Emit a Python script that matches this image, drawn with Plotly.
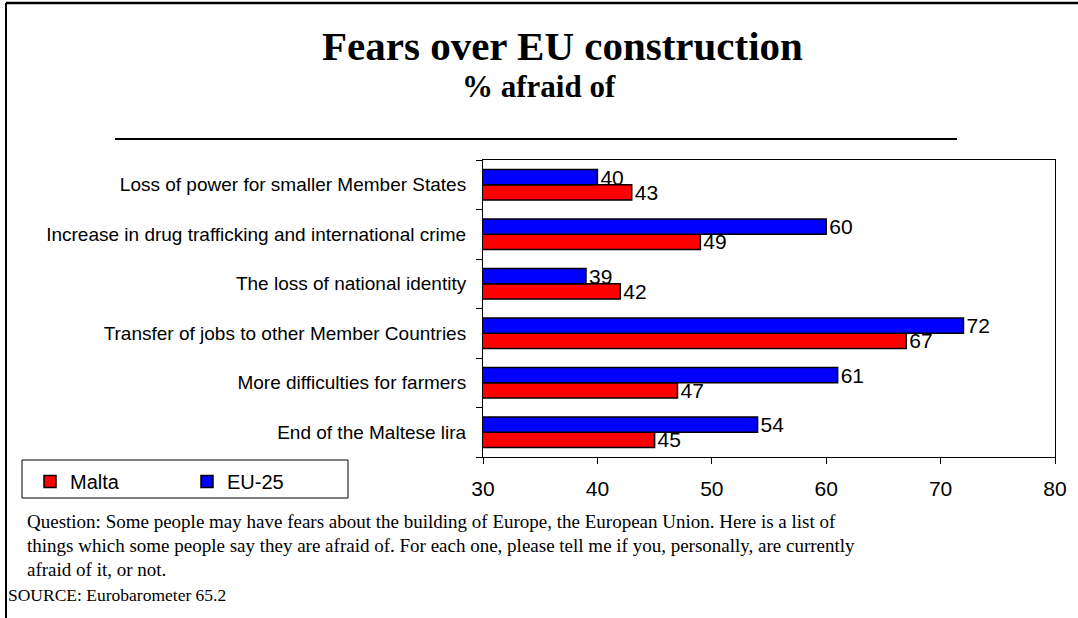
import plotly.graph_objects as go

# Categories listed bottom-to-top as they appear on the y axis
categories = [
    "End of the Maltese lira",
    "More difficulties for farmers",
    "Transfer of jobs to other Member Countries",
    "The loss of national identity",
    "Increase in drug trafficking and international crime",
    "Loss of power for smaller Member States",
]
malta = [45, 47, 67, 42, 49, 43]
eu25 = [54, 61, 72, 39, 60, 40]

x_ticks = [30, 40, 50, 60, 70, 80]

title_text = "Fears over EU construction"
subtitle_text = "% afraid of"
question_lines = [
    "Question: Some people may have fears about the building of Europe, the European Union. Here is a list of",
    "things which some people say they are afraid of. For each one, please tell me if you, personally, are currently",
    "afraid of it, or not.",
]
source_text = "SOURCE: Eurobarometer 65.2"

W, H = 1078, 618
L, R, T, B = 483, 23, 160, 161
PW, PH = W - L - R, H - T - B


def px(x):
    return (x - L) / PW


def py(y):
    return 1 - (y - T) / PH


sans = "Liberation Sans, Arial, sans-serif"
serif = "Liberation Serif, Times New Roman, serif"

fig = go.Figure()
fig.add_trace(go.Bar(
    y=categories, x=malta, name="Malta", orientation="h",
    marker=dict(color="#FF0000", line=dict(color="black", width=1.5)),
    text=malta, textposition="outside", cliponaxis=False, constraintext="none",
    textfont=dict(family=sans, size=21, color="black"),
))
fig.add_trace(go.Bar(
    y=categories, x=eu25, name="EU-25", orientation="h",
    marker=dict(color="#0000FF", line=dict(color="black", width=1.5)),
    text=eu25, textposition="outside", cliponaxis=False, constraintext="none",
    textfont=dict(family=sans, size=21, color="black"),
))

annotations = [
    dict(text="<b>" + title_text + "</b>", xref="paper", yref="paper",
         x=px(562), y=py(46), xanchor="center", yanchor="middle",
         showarrow=False, font=dict(family=serif, size=41, color="black")),
    dict(text="<b>" + subtitle_text + "</b>", xref="paper", yref="paper",
         x=px(539), y=py(86), xanchor="center", yanchor="middle",
         showarrow=False, font=dict(family=serif, size=31, color="black")),
    dict(text=source_text, xref="paper", yref="paper",
         x=px(6), y=py(595), xanchor="left", yanchor="middle", align="left",
         showarrow=False, font=dict(family=serif, size=17.5, color="black")),
]
# footnote question, one annotation per printed line
for i, line in enumerate(question_lines):
    annotations.append(dict(
        text=line, xref="paper", yref="paper",
        x=px(25), y=py(521 + 24 * i), xanchor="left", yanchor="middle", align="left",
        showarrow=False, font=dict(family=serif, size=19, color="black"),
    ))

fig.update_layout(
    width=W, height=H,
    margin=dict(l=L, r=R, t=T, b=B, autoexpand=False),
    paper_bgcolor="white", plot_bgcolor="white",
    barmode="group", bargap=0.38, bargroupgap=0,
    showlegend=True,
    legend=dict(
        orientation="h", xref="container", yref="container",
        x=30 / W, y=1 - 462 / H, xanchor="left", yanchor="top",
        borderwidth=0, bgcolor="rgba(0,0,0,0)",
        font=dict(family=sans, size=20, color="black"),
        entrywidth=112, itemwidth=30,
        traceorder="normal",
    ),
    xaxis=dict(
        range=[30, 80], tickvals=x_ticks, ticktext=[str(v) for v in x_ticks],
        showgrid=False, zeroline=False,
        showline=True, linecolor="black", linewidth=1, mirror=True,
        ticks="outside", ticklen=6, tickcolor="black",
        tickfont=dict(family=sans, size=21, color="black"),
        ticklabelstandoff=7,
    ),
    yaxis=dict(
        type="category", showgrid=False, zeroline=False,
        showline=True, linecolor="black", linewidth=1, mirror=True,
        ticks="outside", ticklen=6, tickcolor="black", tickson="boundaries",
        tickfont=dict(family=sans, size=19, color="black"),
        ticklabelstandoff=12,
    ),
    annotations=annotations,
    shapes=[
        # rule under the heading
        dict(type="line", xref="paper", yref="paper",
             x0=px(115), x1=px(957), y0=py(139), y1=py(139),
             line=dict(color="black", width=2)),
        # legend frame
        dict(type="rect", xref="paper", yref="paper",
             x0=px(22), x1=px(348), y0=py(460), y1=py(498),
             line=dict(color="black", width=1), fillcolor="rgba(0,0,0,0)"),
        # page frame (top and left edges)
        dict(type="line", xref="paper", yref="paper",
             x0=px(6), x1=px(W), y0=py(3), y1=py(3),
             line=dict(color="black", width=2.5)),
        dict(type="line", xref="paper", yref="paper",
             x0=px(6), x1=px(6), y0=py(3), y1=py(H),
             line=dict(color="black", width=2)),
    ],
)

fig.write_html("out.html")
